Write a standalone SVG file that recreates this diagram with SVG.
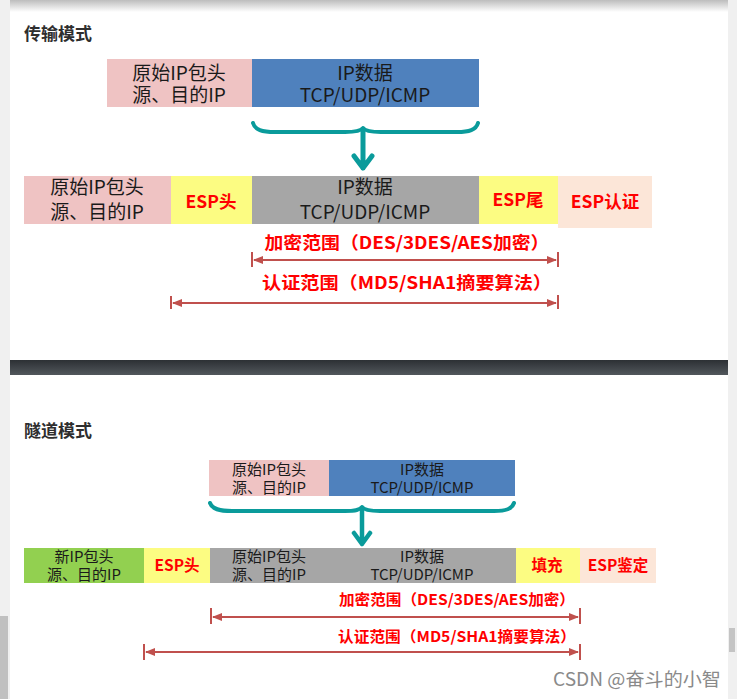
<svg xmlns="http://www.w3.org/2000/svg" width="737" height="699" viewBox="0 0 737 699">
<defs>
<style>
.t{font-family:"Noto Sans CJK SC","Microsoft YaHei",sans-serif;fill:#1a1a1a;text-anchor:middle}
.b{font-family:"Noto Sans CJK SC",sans-serif;font-weight:bold;fill:#ff0000;text-anchor:middle}
.title{font-family:"Noto Sans CJK SC",sans-serif;font-weight:bold;fill:#2e2e2e;font-size:17px}
.rl{stroke:#c0504d;stroke-width:2;fill:none}
.tk{stroke:#c0504d;stroke-width:2}
.br{stroke:#0a9b9b;fill:none;stroke-linecap:round;stroke-linejoin:round}
.pink{fill:#efc3c3}.blue{fill:#4f81bd}.gray{fill:#a6a6a6}.yel{fill:#fcfc82}.peach{fill:#fce6d8}.green{fill:#92d050}
</style>
<marker id="ah" viewBox="0 0 10 10" refX="9" refY="5" markerWidth="5" markerHeight="5" orient="auto-start-reverse">
<path d="M0,1 L10,5 L0,9 Z" fill="#c0504d"/>
</marker>
<linearGradient id="band" x1="0" y1="0" x2="0" y2="1">
<stop offset="0" stop-color="#2c3034"/><stop offset="1" stop-color="#52575c"/>
</linearGradient>
<linearGradient id="shadow" x1="0" y1="0" x2="0" y2="1">
<stop offset="0" stop-color="#bdbdbd"/><stop offset="1" stop-color="#ffffff"/>
</linearGradient>
</defs>
<g id="background">
<rect x="0" y="0" width="737" height="699" fill="#f0f0f0"/>
<rect x="10" y="0" width="718" height="699" fill="#ffffff"/>
<rect x="10" y="0" width="718" height="12" fill="url(#shadow)"/>
<rect x="10" y="360" width="718" height="15" fill="url(#band)"/>
<rect x="0" y="616" width="8" height="83" fill="#c0c0c0"/>
<rect x="729" y="628" width="6" height="24" fill="#c4c4c4"/>
</g>
<g id="title-transport"><text class="title" x="24" y="40">传输模式</text></g>
<g id="title-tunnel"><text class="title" x="24" y="437">隧道模式</text></g>

<g id="t-orig-header">
<rect class="pink" x="107" y="59" width="145" height="48"/>
<text class="t" font-size="19" x="179" y="80">原始IP包头</text>
<text class="t" font-size="19" x="179" y="102">源、目的IP</text>
</g>
<g id="t-ip-data">
<rect class="blue" x="252" y="59" width="227" height="48"/>
<text class="t" font-size="19" x="365" y="80">IP数据</text>
<text class="t" font-size="19" x="365" y="102">TCP/UDP/ICMP</text>
</g>

<g id="t2-orig-header">
<rect class="pink" x="24" y="176" width="147" height="48"/>
<text class="t" font-size="19" x="97" y="194">原始IP包头</text>
<text class="t" font-size="19" x="97" y="219">源、目的IP</text>
</g>
<g id="t2-esp-head">
<rect class="yel" x="171" y="176" width="81" height="48"/>
<text class="b" font-size="17.5" x="211" y="208">ESP头</text>
</g>
<g id="t2-ip-data">
<rect class="gray" x="252" y="176" width="227" height="48"/>
<text class="t" font-size="19" x="365" y="194">IP数据</text>
<text class="t" font-size="19" x="365" y="219">TCP/UDP/ICMP</text>
</g>
<g id="t2-esp-tail">
<rect class="yel" x="479" y="176" width="79" height="48"/>
<text class="b" font-size="17.5" x="518" y="206">ESP尾</text>
</g>
<g id="t2-esp-auth">
<rect class="peach" x="558" y="176" width="94" height="52"/>
<text class="b" font-size="17.5" x="605" y="208">ESP认证</text>
</g>

<g id="u-orig-header">
<rect class="pink" x="209" y="460" width="120" height="36"/>
<text class="t" font-size="15" x="269" y="475">原始IP包头</text>
<text class="t" font-size="15" x="269" y="493">源、目的IP</text>
</g>
<g id="u-ip-data">
<rect class="blue" x="329" y="460" width="186" height="36"/>
<text class="t" font-size="15" x="422" y="475">IP数据</text>
<text class="t" font-size="15" x="422" y="493">TCP/UDP/ICMP</text>
</g>

<g id="u2-new-header">
<rect class="green" x="24" y="548" width="120" height="35"/>
<text class="t" font-size="15" x="84" y="562">新IP包头</text>
<text class="t" font-size="15" x="84" y="580">源、目的IP</text>
</g>
<g id="u2-esp-head">
<rect class="yel" x="144" y="548" width="66" height="35"/>
<text class="b" font-size="15.5" x="177" y="571">ESP头</text>
</g>
<g id="u2-orig">
<rect class="gray" x="210" y="548" width="306" height="35"/>
<text class="t" font-size="15" x="269" y="562">原始IP包头</text>
<text class="t" font-size="15" x="269" y="580">源、目的IP</text>
<text class="t" font-size="15" x="422" y="562">IP数据</text>
<text class="t" font-size="15" x="422" y="580">TCP/UDP/ICMP</text>
</g>
<g id="u2-pad">
<rect class="yel" x="516" y="548" width="64" height="35"/>
<text class="b" font-size="15.5" x="547" y="571">填充</text>
</g>
<g id="u2-esp-auth">
<rect class="peach" x="580" y="548" width="76" height="35"/>
<text class="b" font-size="15.5" x="618" y="571">ESP鉴定</text>
</g>

<g id="connectors">
<path class="br" stroke-width="4" d="M253,123 C255,130 262,132 275,132 L345,132 C356,132 361,131 363,128 C365,131 370,132 381,132 L457,132 C469,132 476,130 478,123"/>
<path class="br" stroke-width="5" d="M363,131 L363,168 M354,156 L363,168 L372,156"/>
<path class="br" stroke-width="4" d="M210,503 C212,509 219,511 232,511 L345,511 C356,511 360,510 362,507 C364,510 369,511 380,511 L494,511 C506,511 512,509 514,503"/>
<path class="br" stroke-width="4.5" d="M362,510 L362,544 M354,533 L362,544 L370,533"/>

<line class="tk" x1="252" y1="252" x2="252" y2="267"/>
<line class="tk" x1="558" y1="252" x2="558" y2="267"/>
<line class="rl" x1="254" y1="260" x2="556" y2="260" marker-start="url(#ah)" marker-end="url(#ah)"/>
<line class="tk" x1="171" y1="296" x2="171" y2="309"/>
<line class="tk" x1="558" y1="295" x2="558" y2="309"/>
<line class="rl" x1="173" y1="303" x2="556" y2="303" marker-start="url(#ah)" marker-end="url(#ah)"/>

<line class="tk" x1="211" y1="608" x2="211" y2="624"/>
<line class="tk" x1="580" y1="608" x2="580" y2="624"/>
<line class="rl" x1="213" y1="617" x2="578" y2="617" marker-start="url(#ah)" marker-end="url(#ah)"/>
<line class="tk" x1="144" y1="644" x2="144" y2="660"/>
<line class="tk" x1="580" y1="644" x2="580" y2="660"/>
<line class="rl" x1="146" y1="652" x2="578" y2="652" marker-start="url(#ah)" marker-end="url(#ah)"/>
</g>
<g id="labels">
<text class="b" font-size="17.5" x="407" y="249" textLength="285" lengthAdjust="spacingAndGlyphs">加密范围（DES/3DES/AES加密）</text>
<text class="b" font-size="17.5" x="407" y="289" textLength="290" lengthAdjust="spacingAndGlyphs">认证范围（MD5/SHA1摘要算法）</text>
<text class="b" font-size="15" x="457" y="605" textLength="236" lengthAdjust="spacingAndGlyphs">加密范围（DES/3DES/AES加密）</text>
<text class="b" font-size="15" x="457" y="642" textLength="238" lengthAdjust="spacingAndGlyphs">认证范围（MD5/SHA1摘要算法）</text>
<text x="637" y="686" font-family="'Noto Sans CJK SC',sans-serif" font-size="18.5" fill="#8a8a8a" text-anchor="middle" textLength="168" lengthAdjust="spacingAndGlyphs">CSDN @奋斗的小智</text>
</g>
</svg>
